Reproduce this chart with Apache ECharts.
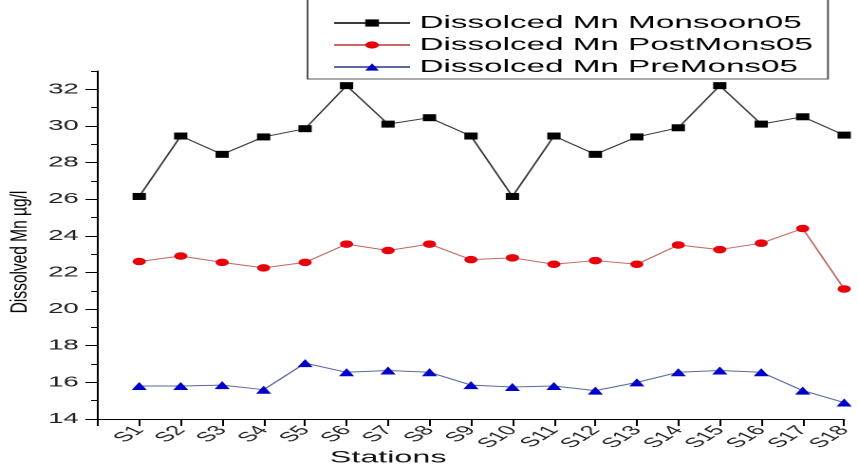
<!DOCTYPE html>
<html>
<head>
<meta charset="utf-8">
<script src="https://cdn.jsdelivr.net/npm/echarts@6/dist/echarts.min.js"></script>
<style>
html,body{margin:0;padding:0;background:#fff;overflow:hidden;width:858px;height:469px;}
#wrap{width:858px;height:469px;overflow:hidden;position:relative;}
#c{width:452px;height:469px;transform:scaleX(1.89823);transform-origin:0 0;}
</style>
</head>
<body>
<div id="wrap"><div id="c"></div></div>
<script>
const stations = ['S1','S2','S3','S4','S5','S6','S7','S8','S9','S10','S11','S12','S13','S14','S15','S16','S17','S18'];
const monsoon05 = [26.15, 29.45, 28.45, 29.4, 29.85, 32.2, 30.1, 30.45, 29.45, 26.15, 29.45, 28.45, 29.4, 29.9, 32.2, 30.1, 30.5, 29.5];
const postMons05 = [22.6, 22.9, 22.55, 22.25, 22.55, 23.55, 23.2, 23.55, 22.7, 22.8, 22.45, 22.65, 22.45, 23.5, 23.25, 23.6, 24.4, 21.1];
const preMons05 = [15.8, 15.8, 15.85, 15.6, 17.05, 16.55, 16.65, 16.55, 15.85, 15.75, 15.8, 15.55, 16.0, 16.55, 16.65, 16.55, 15.55, 14.9];
const yTickLabels = [14, 16, 18, 20, 22, 24, 26, 28, 30, 32];
const yMinorTicks = [14, 15, 16, 17, 18, 19, 20, 21, 22, 23, 24, 25, 26, 27, 28, 29, 30, 31, 32, 33];
const seriesNames = ['Dissolced Mn Monsoon05', 'Dissolced Mn PostMons05', 'Dissolced Mn PreMons05'];
const yTitle = 'Dissolved Mn \u00b5g/l';
const xTitle = 'Stations';

const FONT = '"Liberation Sans", Arial, sans-serif';
const toPairs = arr => arr.map((v, i) => [i + 1, v]);

const chart = echarts.init(document.getElementById('c'), null, {renderer: 'canvas', devicePixelRatio: 2});
const gridBox = {left: 51.5, right: 0.5, top: 71, bottom: 50};

chart.setOption({
  backgroundColor: '#fff',
  animation: false,
  grid: [Object.assign({}, gridBox), Object.assign({}, gridBox)],
  legend: {
    orient: 'vertical',
    left: 162,
    top: -14,
    padding: [28, 8, 3, 13],
    itemWidth: 40,
    itemHeight: 9,
    itemGap: 4,
    borderColor: '#555',
    borderWidth: 1,
    backgroundColor: '#fff',
    textStyle: {fontFamily: FONT, fontSize: 17.5, color: '#000'},
    data: seriesNames
  },
  xAxis: [{
    type: 'value', gridIndex: 0, min: 0, max: 18, interval: 1,
    axisLine: {show: true, lineStyle: {color: '#000', width: 1}},
    axisTick: {show: true, inside: false, length: 7, lineStyle: {color: '#000'}},
    splitLine: {show: false},
    axisLabel: {
      rotate: 50, margin: 9, fontFamily: FONT, fontSize: 13.5, color: '#222',
      formatter: v => (v >= 1 && v <= stations.length) ? stations[v - 1] : ''
    }
  }, {
    type: 'value', gridIndex: 1, min: 0, max: 18, show: false
  }],
  yAxis: [{
    type: 'value', gridIndex: 0, min: 14, max: 33, interval: 1,
    axisLine: {show: true, lineStyle: {color: '#000', width: 1}},
    axisTick: {show: true, inside: false, length: 6.5, customValues: yTickLabels, lineStyle: {color: '#000'}},
    splitLine: {show: false},
    axisLabel: {customValues: yTickLabels, margin: 10, fontFamily: FONT, fontSize: 14.5, color: '#222'}
  }, {
    type: 'value', gridIndex: 1, min: 14, max: 33, interval: 1,
    axisLine: {show: false},
    axisTick: {show: true, inside: false, length: 3.5, customValues: yMinorTicks, lineStyle: {color: '#000'}},
    splitLine: {show: false},
    axisLabel: {show: false}
  }],
  graphic: [{
    type: 'text', x: 10.5, y: 252, rotation: Math.PI / 2, scaleY: 0.8,
    style: {text: yTitle, fontSize: 15.5, fontFamily: 'Liberation Sans', fill: '#000', align: 'center', verticalAlign: 'middle'}
  }, {
    type: 'text', x: 204.5, y: 458,
    style: {text: xTitle, fontSize: 17, fontFamily: 'Liberation Sans', fill: '#111', align: 'center', verticalAlign: 'middle'}
  }],
  series: [{
    name: seriesNames[0], type: 'line', xAxisIndex: 0, yAxisIndex: 0,
    data: toPairs(monsoon05), symbol: 'rect', symbolSize: 7, showAllSymbol: true,
    itemStyle: {color: '#000'}, lineStyle: {color: '#3a3a3a', width: 1}
  }, {
    name: seriesNames[1], type: 'line', xAxisIndex: 0, yAxisIndex: 0,
    data: toPairs(postMons05), symbol: 'circle', symbolSize: [7, 7.5], showAllSymbol: true,
    itemStyle: {color: '#e8000b'}, lineStyle: {color: '#c46868', width: 1}
  }, {
    name: seriesNames[2], type: 'line', xAxisIndex: 0, yAxisIndex: 0,
    data: toPairs(preMons05), symbol: 'triangle', symbolSize: [8, 8], showAllSymbol: true,
    itemStyle: {color: '#0000c8'}, lineStyle: {color: '#5a68a0', width: 1}
  }]
});
</script>
</body>
</html>
